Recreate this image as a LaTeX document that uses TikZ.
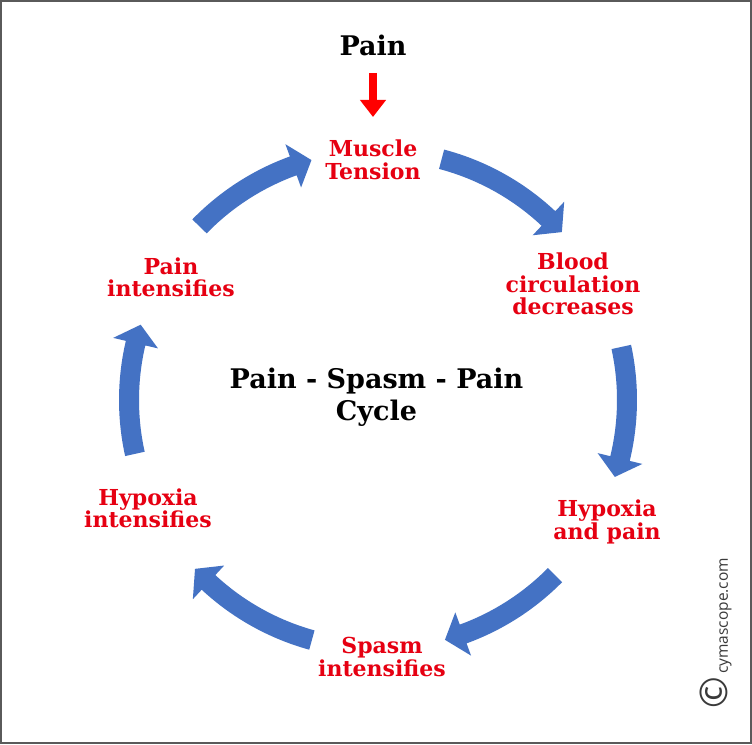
\documentclass[tikz,border=0pt]{standalone}
\usepackage{fontspec}
\setmainfont{DejaVu Serif}
\newfontfamily\copyfont{Open Sans}
\usetikzlibrary{arrows.meta}
\definecolor{cyclblue}{HTML}{4472C4}
\definecolor{labred}{RGB}{230,0,18}
\definecolor{framegray}{HTML}{5A5A5A}
\definecolor{copygray}{HTML}{3A3A3A}
\newcommand{\cyclearrow}[2]{%
  \fill[blockarrow]
    ([shift={(#1:259)}]C) arc[start angle=#1, end angle=#2+4.4, radius=259]
    -- ([shift={(#2+4.4:272)}]C)
    -- ([shift={(#2:249)}]C)
    -- ([shift={(#2+4.4:226)}]C)
    -- ([shift={(#2+4.4:239)}]C)
    arc[start angle=#2+4.4, end angle=#1, radius=239] -- cycle;}
\begin{document}
\begin{tikzpicture}[x=1pt,y=1pt,
  lab/.style={text=labred, font=\fontsize{22}{22.5}\selectfont\bfseries, align=center, inner sep=0pt},
  ttl/.style={text=black, font=\fontsize{27}{32}\selectfont\bfseries, align=center, inner sep=0pt},
  blockarrow/.style={fill=cyclblue, draw=none}]
\useasboundingbox (0,0) rectangle (752,744);
\fill[white] (0,0) rectangle (752,744);
\draw[framegray, line width=2pt] (1,1) rectangle (751,743);
\coordinate (C) at (378,344);
% labels
\node[ttl] (pain) at (373,699) {Pain};
\node[lab] (mt) at (373,584) {Muscle\\Tension};
\node[lab] (bcd) at (573,460) {Blood\\circulation\\decreases};
\node[lab] (hp) at (607,222) {Hypoxia\\and pain};
\node[lab] (si) at (382,87) {Spasm\\intensifies};
\node[lab] (hi) at (148,235.5) {Hypoxia\\intensifies};
\node[lab] (pi) at (171,466.5) {Pain\\intensifies};
\node[ttl] (title) at (376.5,347) {Pain - Spasm - Pain\\Cycle};
% red input arrow
\coordinate (redtop) at (373,671);
\coordinate (redtip) at (373,627);
\draw[red, line width=8pt, -{Triangle[width=25pt,length=17pt]}] (redtop) -- (redtip);
% cycle arrows
\cyclearrow{75.2}{42.4}
\cyclearrow{12.3}{-18}
\cyclearrow{-44.7}{-74.4}
\cyclearrow{-105.4}{-137.3}
\cyclearrow{-167.5}{-197.6}
\cyclearrow{135.8}{105.5}
% copyright
\node[rotate=90, text=copygray, inner sep=0pt, font=\copyfont\fontsize{15.5}{15.5}\selectfont] (cr) at (716,111) {{\fontsize{38}{38}\selectfont ©}\,cymascope.com};
\end{tikzpicture}
\end{document}
